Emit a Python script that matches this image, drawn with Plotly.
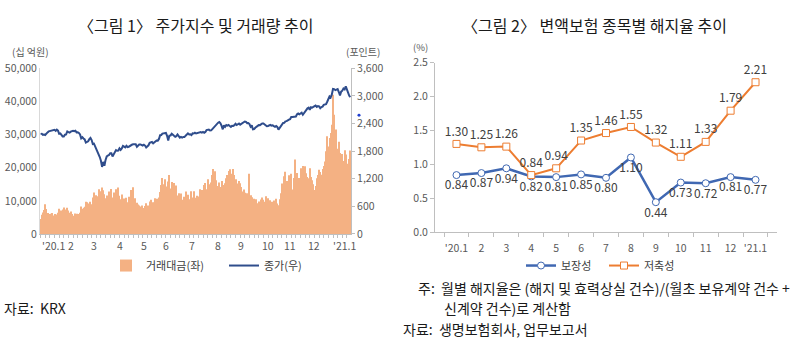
import plotly.graph_objects as go

# ---------------- Left chart data (daily, by month) ----------------
month_labels = ["'20.1", "2", "3", "4", "5", "6", "7", "8", "9", "10", "11", "12", "'21.1"]

kospi_2020_01 = [2175, 2176, 2155, 2162, 2151, 2187, 2206, 2229, 2238, 2230, 2248, 2250, 2262, 2239, 2267, 2246, 2176, 2185, 2148, 2119]
kospi_2020_02 = [2118, 2157, 2165, 2227, 2211, 2201, 2223, 2238, 2243, 2232, 2243, 2208, 2210, 2195, 2162, 2079, 2103, 2076, 2054, 1987]
kospi_2020_03 = [2002, 2014, 2059, 2085, 2040, 1954, 1962, 1908, 1834, 1771, 1714, 1672, 1591, 1457, 1566, 1482, 1609, 1686, 1704, 1717, 1754, 1754]
kospi_2020_04 = [1685, 1725, 1791, 1823, 1807, 1812, 1861, 1827, 1857, 1914, 1898, 1880, 1915, 1889, 1896, 1914, 1922, 1943, 1947, 1940, 1947]
kospi_2020_05 = [1895, 1928, 1945, 1946, 1936, 1922, 1940, 1921, 1879, 1900, 1927, 1980, 1989, 1998, 1970, 1994, 2029, 2031, 2029]
kospi_2020_06 = [2065, 2147, 2151, 2181, 2185, 2188, 2195, 2132, 2030, 2138, 2141, 2176, 2141, 2132, 2112, 2126, 2161, 2134, 2093, 2108, 2093, 2108]
kospi_2020_07 = [2106, 2135, 2152, 2187, 2164, 2168, 2150, 2186, 2183, 2201, 2183, 2188, 2198, 2207, 2215, 2201, 2217, 2200, 2217, 2256, 2263, 2267, 2249]
kospi_2020_08 = [2251, 2279, 2311, 2342, 2351, 2386, 2418, 2432, 2407, 2348, 2274, 2360, 2330, 2366, 2353, 2369, 2344, 2326, 2352]
kospi_2020_09 = [2349, 2364, 2395, 2368, 2384, 2401, 2375, 2396, 2397, 2428, 2443, 2435, 2406, 2412, 2389, 2333, 2360, 2272, 2278, 2308, 2327]
kospi_2020_10 = [2358, 2366, 2365, 2391, 2403, 2403, 2380, 2361, 2341, 2346, 2358, 2371, 2355, 2360, 2343, 2330, 2345, 2326, 2267]
kospi_2020_11 = [2300, 2344, 2358, 2413, 2416, 2447, 2452, 2475, 2485, 2494, 2543, 2543, 2545, 2547, 2553, 2602, 2617, 2601, 2625, 2634, 2591]
kospi_2020_12 = [2634, 2672, 2696, 2731, 2745, 2700, 2755, 2746, 2760, 2770, 2791, 2762, 2778, 2772, 2732, 2759, 2768, 2806, 2808, 2820, 2873]
kospi_2021_01 = [2944, 2990, 2968, 3031, 3152, 3148, 3125, 3148, 3149, 3085, 3013, 3092, 3114, 3160, 3141, 3208, 3122, 3069, 3002, 2976]

value_2020_01 = [4500, 5800, 6500, 7200, 9000, 7500, 6300, 6000, 5800, 6100, 6300, 5600, 6000, 5900, 5700, 6400, 7600, 6900, 7100, 7400]
value_2020_02 = [8000, 7400, 6800, 7900, 7100, 6400, 6800, 6000, 5400, 5500, 6200, 6100, 6000, 5700, 6400, 8300, 7600, 7900, 8200, 9700]
value_2020_03 = [9600, 8800, 9200, 9700, 9000, 11000, 12500, 11200, 11700, 11400, 13500, 12900, 12500, 14000, 13200, 12000, 10800, 11600, 11100, 12800, 11300, 13600]
value_2020_04 = [11000, 12500, 11800, 13500, 12000, 14000, 11500, 10500, 11900, 10300, 10700, 9600, 10900, 9600, 11200, 10500, 13300, 11400, 14100, 10800, 9000]
value_2020_05 = [9400, 8900, 8600, 8300, 8600, 7800, 7700, 8400, 9300, 8300, 8600, 9800, 10300, 9200, 9600, 9400, 10800, 10600, 10100]
value_2020_06 = [11000, 12700, 14800, 16900, 15000, 16500, 14300, 13500, 15800, 17800, 13700, 15700, 13000, 15400, 12500, 14600, 11600, 12300, 11300, 12200, 10300, 10100]
value_2020_07 = [11200, 12800, 10700, 11800, 10500, 9800, 12900, 11000, 12900, 10900, 10800, 11500, 11300, 13500, 12500, 13300, 12800, 14800, 15400, 13500, 16500, 14600, 15000]
value_2020_08 = [15500, 17800, 19600, 18900, 16200, 14500, 13500, 15500, 14200, 16000, 14800, 13500, 15300, 16800, 17800, 19000, 19500, 17500, 18200]
value_2020_09 = [19600, 17800, 16500, 15200, 14000, 16000, 15300, 14200, 12800, 13400, 12400, 11800, 12300, 11500, 18200, 11700, 11100, 10200, 10600, 9800, 10500]
value_2020_10 = [9300, 9800, 9600, 10400, 11000, 10300, 9700, 11400, 9800, 10800, 9600, 10200, 9700, 9000, 10100, 8900, 10600, 9200, 8700]
value_2020_11 = [10500, 12300, 15200, 14200, 17400, 18800, 16000, 14300, 17700, 14800, 18200, 13400, 16900, 22500, 14500, 18400, 16300, 16900, 19800, 17500, 20500]
value_2020_12 = [19300, 20400, 18300, 17200, 16800, 19800, 17200, 16200, 15000, 13300, 14500, 16800, 17800, 19400, 18700, 17900, 19600, 20500, 21900, 25000, 29500]
value_2021_01 = [26400, 29000, 30500, 33000, 42000, 36000, 30000, 31500, 25700, 27800, 24400, 23000, 24100, 22000, 25300, 24000, 21200, 20300, 22600, 25200]

kospi_months = [kospi_2020_01, kospi_2020_02, kospi_2020_03, kospi_2020_04, kospi_2020_05, kospi_2020_06,
                kospi_2020_07, kospi_2020_08, kospi_2020_09, kospi_2020_10, kospi_2020_11, kospi_2020_12, kospi_2021_01]
value_months = [value_2020_01, value_2020_02, value_2020_03, value_2020_04, value_2020_05, value_2020_06,
                value_2020_07, value_2020_08, value_2020_09, value_2020_10, value_2020_11, value_2020_12, value_2021_01]

kospi = [v for m in kospi_months for v in m]
trade_value = [v for m in value_months for v in m]
days = list(range(len(kospi)))
month_starts = []
acc = 0
for m in kospi_months:
    month_starts.append(acc)
    acc += len(m)

# ---------------- Right chart data ----------------
cat_labels = ["'20.1", "2", "3", "4", "5", "6", "7", "8", "9", "10", "11", "12", "'21.1"]
protection = [0.84, 0.87, 0.94, 0.82, 0.81, 0.85, 0.80, 1.10, 0.44, 0.73, 0.72, 0.81, 0.77]
savings = [1.30, 1.25, 1.26, 0.84, 0.94, 1.35, 1.46, 1.55, 1.32, 1.11, 1.33, 1.79, 2.21]

W, H = 791, 352
def px(x): return x / W
def py(y): return (H - y) / H

FONT = "Noto Sans CJK KR"
TICK = dict(family=FONT, size=10.5, color="#595959")
BAR_C = "#F4B183"
LINE_C = "#2F4D8C"
BLUE = "#4068B2"
ORANGE = "#ED7D31"
AXC = "#BFBFBF"

fig = go.Figure()

fig.add_trace(go.Bar(x=days, y=trade_value, name="거래대금(좌)", marker=dict(color=BAR_C, line=dict(width=0)),
                     xaxis="x", yaxis="y", legend="legend"))
fig.add_trace(go.Scatter(x=days, y=kospi, name="종가(우)", mode="lines", line=dict(color=LINE_C, width=2),
                         xaxis="x", yaxis="y3", legend="legend"))

fig.add_trace(go.Scatter(x=cat_labels, y=protection, name="보장성", mode="lines+markers+text",
                         line=dict(color=BLUE, width=2.5),
                         marker=dict(symbol="circle", size=7, color="white", line=dict(color=BLUE, width=1)),
                         text=[f"{v:.2f}" for v in protection], textposition="bottom center",
                         textfont=dict(family=FONT, size=12, color="#404040"),
                         xaxis="x2", yaxis="y2", legend="legend2"))
fig.add_trace(go.Scatter(x=cat_labels, y=savings, name="저축성", mode="lines+markers+text",
                         line=dict(color=ORANGE, width=2),
                         marker=dict(symbol="square", size=7, color="white", line=dict(color=ORANGE, width=1)),
                         text=[f"{v:.2f}" for v in savings], textposition="top center",
                         textfont=dict(family=FONT, size=12, color="#404040"),
                         xaxis="x2", yaxis="y2", legend="legend2"))

annotations = []
for i, (start, lab) in enumerate(zip(month_starts, month_labels)):
    xi = start + (-0.5 if i == 0 else 2.0)
    annotations.append(dict(x=xi, y=py(248), xref="x", yref="paper", text=lab, showarrow=False,
                            xanchor="left", yanchor="middle", font=TICK))

def txt(x, y, s, size=14, color="#1a1a1a", xanchor="left"):
    annotations.append(dict(x=px(x), y=py(y), xref="paper", yref="paper", text=s, showarrow=False,
                            xanchor=xanchor, yanchor="middle", font=dict(family=FONT, size=size, color=color)))

txt(195, 18, "〈그림 1〉 주가지수 및 거래량 추이", size=16, xanchor="center")
txt(594, 18, "〈그림 2〉 변액보험 종목별 해지율 추이", size=16, xanchor="center")
txt(30, 45, "(십 억원)", size=10, color="#595959", xanchor="center")
txt(363, 45, "(포인트)", size=10, color="#595959", xanchor="center")
txt(420, 41, "(%)", size=9.5, color="#595959", xanchor="center")
txt(2, 313, "자료:  KRX", size=14)
txt(416, 292, "주:  월별 해지율은 (해지 및 효력상실 건수)/(월초 보유계약 건수 +", size=14)
txt(442, 313, "신계약 건수)로 계산함", size=14)
txt(401, 335, "자료:  생명보험회사, 업무보고서", size=14)

fig.update_layout(
    width=W, height=H, margin=dict(l=0, r=0, t=0, b=0),
    paper_bgcolor="white", plot_bgcolor="white",
    bargap=0.12, showlegend=True,
    xaxis=dict(domain=[px(40), px(351)], range=[-0.5, len(days) - 0.5], showgrid=False, zeroline=False,
               showline=True, linecolor=AXC, ticks="outside", ticklen=3, tickcolor=AXC,
               tickmode="linear", tick0=0, dtick=4, showticklabels=False, anchor="y"),
    yaxis=dict(domain=[py(236), py(63)], range=[0, 50000], tickvals=[0, 10000, 20000, 30000, 40000, 50000],
               tickformat=",", showgrid=False, zeroline=False, showline=True, linecolor="#D9D9D9",
               ticks="", tickfont=TICK, anchor="x"),
    yaxis3=dict(range=[0, 3600], tickvals=[0, 600, 1200, 1800, 2400, 3000, 3600], tickformat=",",
                overlaying="y", side="right", anchor="x", showgrid=False, zeroline=False,
                showline=True, linecolor=AXC, ticks="outside", ticklen=3, tickcolor=AXC, tickfont=TICK),
    xaxis2=dict(domain=[px(435), px(777)], type="category", showgrid=False, zeroline=False,
                showline=True, linecolor=AXC, ticks="outside", ticklen=4, tickcolor=AXC, tickson="boundaries",
                tickangle=0, tickfont=TICK, ticklabelstandoff=6, anchor="y2"),
    yaxis2=dict(domain=[py(234), py(57)], range=[0, 2.5], dtick=0.5, tickformat=".1f", showgrid=False,
                zeroline=False, showline=True, linecolor=AXC, ticks="outside", ticklen=4, tickcolor=AXC,
                tickfont=TICK, anchor="x2"),
    legend=dict(orientation="h", x=px(106), y=py(269), xanchor="left", yanchor="middle",
                font=dict(family=FONT, size=11, color="#404040"), bgcolor="rgba(0,0,0,0)",
                itemwidth=30, tracegroupgap=0, entrywidth=73),
    legend2=dict(orientation="h", x=px(521), y=py(269), xanchor="left", yanchor="middle",
                 font=dict(family=FONT, size=11, color="#404040"), bgcolor="rgba(0,0,0,0)",
                 itemwidth=30, entrywidth=38),
    annotations=annotations,
    shapes=[dict(type="circle", xref="paper", yref="paper", x0=px(357.5), x1=px(360.5), y0=py(113.5), y1=py(110.5),
                 fillcolor="#1f3fd0", line=dict(width=0))],
)

fig.write_html("out.html")
